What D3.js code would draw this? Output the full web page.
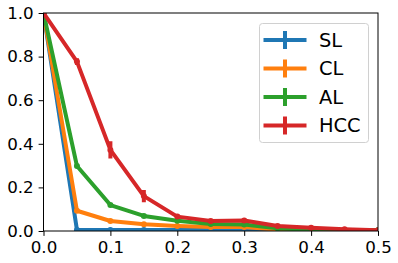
<!DOCTYPE html>
<html>
<head>
<meta charset="utf-8">
<script src="https://cdn.jsdelivr.net/npm/d3@7"></script>
<style>
  body { margin: 0; background: #fff; }
  text { font-family: "DejaVu Sans", sans-serif; }
</style>
</head>
<body>
<div class="chart"></div>
<script>
// Chart size
const width = 398;
const height = 263;
const margin = {top: 13, right: 20, bottom: 32, left: 43.5};
const inner_width = width - margin.left - margin.right;
const inner_height = height - margin.top - margin.bottom;

// Data
const xs = [0, 0.05, 0.1, 0.15, 0.2, 0.25, 0.3, 0.35, 0.4, 0.45, 0.5];
const names = ['SL', 'CL', 'AL', 'HCC'];
const colors = ['#1f77b4', '#ff7f0e', '#2ca02c', '#d62728'];
const sl = [1.0, 0.005, 0.005, 0.005, 0.005, 0.005, 0.005, 0.004, 0.003, 0.002, 0.002];
const cl = [1.0, 0.093, 0.046, 0.031, 0.023, 0.018, 0.018, 0.006, 0.004, 0.003, 0.002];
const al = [1.0, 0.298, 0.119, 0.069, 0.047, 0.032, 0.03, 0.012, 0.006, 0.004, 0.003];
const hcc = [1.0, 0.777, 0.372, 0.16, 0.066, 0.046, 0.048, 0.023, 0.015, 0.008, 0.003];
const sl_err = [0, 0.002, 0.002, 0.002, 0.002, 0.002, 0.002, 0.002, 0.001, 0.001, 0.001];
const cl_err = [0, 0.006, 0.004, 0.004, 0.003, 0.003, 0.003, 0.002, 0.002, 0.001, 0.001];
const al_err = [0, 0.008, 0.006, 0.005, 0.004, 0.004, 0.004, 0.003, 0.002, 0.001, 0.001];
const hcc_err = [0, 0.016, 0.04, 0.028, 0.01, 0.008, 0.008, 0.005, 0.004, 0.002, 0.001];
const x_ticks = [0, 0.1, 0.2, 0.3, 0.4, 0.5];
const y_ticks = [0, 0.2, 0.4, 0.6, 0.8, 1.0];

const series = [
    {name: 'SL', values: sl, err: sl_err},
    {name: 'CL', values: cl, err: cl_err},
    {name: 'AL', values: al, err: al_err},
    {name: 'HCC', values: hcc, err: hcc_err}
];

const svg = d3.select('.chart').append('svg')
    .attr('width', width)
    .attr('height', height);

const xScale = d3.scaleLinear().domain([0, 0.5]).range([0, inner_width]);
const yScale = d3.scaleLinear().domain([0, 1]).range([inner_height, 0]);
const colorScale = d3.scaleOrdinal().domain(names).range(colors);

const chart = svg.append('g').attr('transform', `translate(${margin.left}, ${margin.top})`);

svg.append('defs').append('clipPath').attr('id', 'clip')
    .append('rect')
    .attr('width', inner_width)
    .attr('height', inner_height);

// Lines, markers and error bars
const plot = chart.append('g').attr('clip-path', 'url(#clip)');
const line = d3.line()
    .x((d, i) => xScale(xs[i]))
    .y(d => yScale(d));

series.forEach(s => {
    const c = colorScale(s.name);
    const g = plot.append('g');
    g.append('path')
        .attr('d', line(s.values))
        .attr('fill', 'none')
        .attr('stroke', c)
        .attr('stroke-width', 4)
        .attr('stroke-linejoin', 'round');
    g.selectAll('line')
        .data(s.values)
        .join('line')
            .attr('x1', (d, i) => xScale(xs[i]))
            .attr('x2', (d, i) => xScale(xs[i]))
            .attr('y1', (d, i) => yScale(d - s.err[i]))
            .attr('y2', (d, i) => yScale(d + s.err[i]))
            .attr('stroke', c)
            .attr('stroke-width', 4);
    g.selectAll('circle')
        .data(s.values)
        .join('circle')
            .attr('cx', (d, i) => xScale(xs[i]))
            .attr('cy', d => yScale(d))
            .attr('r', 3)
            .attr('fill', c);
});

// Axes
const xAxis = d3.axisBottom(xScale).tickValues(x_ticks).tickFormat(d3.format('.1f')).tickSize(4.9).tickPadding(5.2);
const yAxis = d3.axisLeft(yScale).tickValues(y_ticks).tickFormat(d3.format('.1f')).tickSize(4.9).tickPadding(4.9);

chart.append('g')
    .attr('transform', `translate(0, ${inner_height})`)
    .call(xAxis)
    .call(g => g.select('.domain').remove())
    .call(g => g.selectAll('text').attr('font-size', 16.7).attr('fill', '#000').style('font-family', '"DejaVu Sans"'))
    .call(g => g.selectAll('line').attr('stroke', '#000'));

chart.append('g')
    .call(yAxis)
    .call(g => g.select('.domain').remove())
    .call(g => g.selectAll('text').attr('font-size', 16.7).attr('fill', '#000').style('font-family', '"DejaVu Sans"'))
    .call(g => g.selectAll('line').attr('stroke', '#000'));

// Frame
chart.append('rect')
    .attr('width', inner_width)
    .attr('height', inner_height)
    .attr('fill', 'none')
    .attr('stroke', '#000')
    .attr('stroke-width', 1);

// Legend
const legend = svg.append('g').attr('transform', 'translate(259.5, 23.5)');
legend.append('rect')
    .attr('width', 109)
    .attr('height', 119)
    .attr('rx', 3)
    .attr('fill', '#fff')
    .attr('fill-opacity', 0.8)
    .attr('stroke', '#d0d0d0')
    .attr('stroke-width', 1);

const items = legend.selectAll('g.item')
    .data(names)
    .join('g')
        .attr('class', 'item')
        .attr('transform', (_, i) => `translate(0, ${16.5 + i * 28.5})`);

items.append('line')
    .attr('x1', 4).attr('x2', 47)
    .attr('stroke', d => colorScale(d))
    .attr('stroke-width', 4);
items.append('line')
    .attr('x1', 25.5).attr('x2', 25.5)
    .attr('y1', -9).attr('y2', 9)
    .attr('stroke', d => colorScale(d))
    .attr('stroke-width', 4);
items.append('text')
    .attr('x', 59.5)
    .attr('dy', '0.36em')
    .attr('font-size', 19.4)
    .attr('fill', '#000')
    .text(d => d);
</script>
</body>
</html>
